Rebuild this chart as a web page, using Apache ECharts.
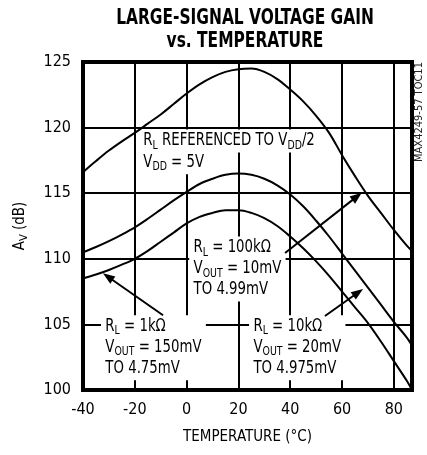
<!DOCTYPE html>
<html><head><meta charset="utf-8">
<script src="https://cdn.jsdelivr.net/npm/echarts@6/dist/echarts.min.js"></script>
<style>html,body{margin:0;padding:0;background:#fff}#c{width:427px;height:455px}</style>
</head><body><div id="c"></div>
<script>
const FONT = '"Liberation Sans Narrow","Arial Narrow","DejaVu Sans Condensed","Liberation Sans",sans-serif';

// Temperatures (°C)
const temps = [-40,-35,-30,-25,-20,-15,-10,-5,0,5,10,15,20,25,30,35,40,45,50,55,60,65,70,75,80,85,87];
// Av (dB) for each load
const gain100k = [116.6,117.45,118.25,118.95,119.6,120.3,121.0,121.8,122.6,123.3,123.85,124.25,124.45,124.5,124.25,123.7,122.9,122.0,120.9,119.6,117.9,116.3,114.8,113.5,112.2,111.0,110.6];
const gain10k  = [110.5,110.9,111.35,111.85,112.4,113.05,113.75,114.45,115.1,115.7,116.1,116.4,116.5,116.4,116.1,115.6,114.9,114.0,112.9,111.7,110.4,109.1,107.8,106.5,105.2,104.0,103.4];
const gain1k   = [108.5,108.8,109.15,109.55,110.0,110.6,111.3,112.0,112.7,113.2,113.5,113.7,113.7,113.5,113.1,112.5,111.7,110.8,109.8,108.7,107.5,106.3,105.1,103.7,102.2,100.7,100.0];

const xTickLabels = [-40,-20,0,20,40,60,80];
const yTickLabels = [100,105,110,115,120,125];

// Annotation anchors (data coordinates: [°C, dB]) – box top-left corners
const notes = [
  {at:[-18.4,119.85], text:'{n|R}{s|L}{n| REFERENCED TO V}{s|DD}{n|/2}'},
  {at:[-18.4,118.2],  text:'{n|V}{s|DD}{n| = 5V}'},
  {at:[1.0,111.7],    text:'{n|R}{s|L}{n| = 100kΩ}\n{n|V}{s|OUT}{n| = 10mV}\n{n|TO 4.99mV}'},
  {at:[-33.05,105.7], text:'{n|R}{s|L}{n| = 1kΩ}\n{n|V}{s|OUT}{n| = 150mV}\n{n|TO 4.75mV}'},
  {at:[24.1,105.7],   text:'{n|R}{s|L}{n| = 10kΩ}\n{n|V}{s|OUT}{n| = 20mV}\n{n|TO 4.975mV}'}
];
// Arrows: [tail, tip] in data coordinates
const arrows = [
  [[-9.1,105.7],[-32.3,108.9]],
  [[38.0,110.44],[67.6,115.04]],
  [[53.4,105.64],[68.1,107.7]]
];

const pairs = v => temps.map((t,i)=>[t, v[i]]);
const chart = echarts.init(document.getElementById('c'), null, {renderer:'canvas'});

const lineSeries = (name, vals) => ({
  name, type:'line', data: pairs(vals), smooth:0.35, showSymbol:false, symbol:'none',
  lineStyle:{color:'#000', width:2}, z:3, silent:true
});

chart.setOption({
  animation:false,
  backgroundColor:'#fff',
  grid:{left:83, right:15, top:62, bottom:65, show:true, borderColor:'#000', borderWidth:4, backgroundColor:'transparent'},
  xAxis:{
    type:'value', min:-40, max:87, interval:20,
    name:'TEMPERATURE (°C)', nameLocation:'middle', nameGap:40,
    nameTextStyle:{fontFamily:FONT, fontSize:15, color:'#000'},
    axisLine:{show:false}, axisTick:{show:false},
    axisLabel:{fontFamily:FONT, fontSize:16, color:'#000', margin:12,
      formatter: v => xTickLabels.includes(v) ? String(v) : ''},
    splitLine:{show:true, lineStyle:{color:'#000', width:2}}
  },
  yAxis:{
    type:'value', min:100, max:125, interval:5,
    name:'{a|A}{s|V}{a| (dB)}', nameLocation:'middle', nameGap:53,
    nameTextStyle:{fontFamily:FONT, fontSize:15, color:'#000',
      rich:{a:{fontFamily:FONT, fontSize:15, color:'#000', lineHeight:20},
            s:{fontFamily:FONT, fontSize:11, color:'#000', lineHeight:12, verticalAlign:'bottom'}}},
    axisLine:{show:false}, axisTick:{show:false},
    axisLabel:{fontFamily:FONT, fontSize:16, color:'#000', margin:12,
      formatter: v => yTickLabels.includes(v) ? String(v) : ''},
    splitLine:{show:true, lineStyle:{color:'#000', width:2}}
  },
  series:[
    lineSeries('RL = 100kΩ', gain100k),
    lineSeries('RL = 10kΩ', gain10k),
    lineSeries('RL = 1kΩ', gain1k)
  ]
});

const px = p => chart.convertToPixel({gridIndex:0}, p);
const rich = {
  n:{fontFamily:FONT, fontSize:17, color:'#000', lineHeight:21},
  s:{fontFamily:FONT, fontSize:12, color:'#000', lineHeight:13, verticalAlign:'bottom'}
};
const elements = [];
// Title
elements.push({type:'text', x:245, y:7, scaleX:0.78, z:10,
  style:{text:'LARGE-SIGNAL VOLTAGE GAIN\nvs. TEMPERATURE', align:'center', verticalAlign:'top',
    fontFamily:FONT, fontWeight:'bold', fontSize:22, lineHeight:23, fill:'#000'}});
// Side code
elements.push({type:'text', x:419, y:112, rotation:Math.PI/2, z:10,
  style:{text:'MAX4249-57 TOC11', align:'center', verticalAlign:'middle',
    fontFamily:FONT, fontSize:11, fill:'#222'}});
notes.forEach(nt=>{
  const p = px(nt.at);
  elements.push({type:'text', x:p[0], y:p[1], z:1, scaleX:0.87,
    style:{text:nt.text, rich, align:'left', verticalAlign:'top', backgroundColor:'#fff', padding:[1,5,1,5],
      fontFamily:FONT, fontSize:17, lineHeight:21, fill:'#000'}});
});
arrows.forEach(a=>{
  const t = px(a[0]), h = px(a[1]);
  const dx = h[0]-t[0], dy = h[1]-t[1], L = Math.hypot(dx,dy);
  const ux = dx/L, uy = dy/L, len = 12, hw = 4.5;
  const bx = h[0]-ux*len, by = h[1]-uy*len;
  elements.push({type:'line', z:5, shape:{x1:t[0], y1:t[1], x2:bx+ux*2, y2:by+uy*2}, style:{stroke:'#000', lineWidth:2}});
  elements.push({type:'polygon', z:5, shape:{points:[[h[0],h[1]],[bx-uy*hw, by+ux*hw],[bx+uy*hw, by-ux*hw]]}, style:{fill:'#000'}});
});
chart.setOption({graphic:{elements}});
</script></body></html>
